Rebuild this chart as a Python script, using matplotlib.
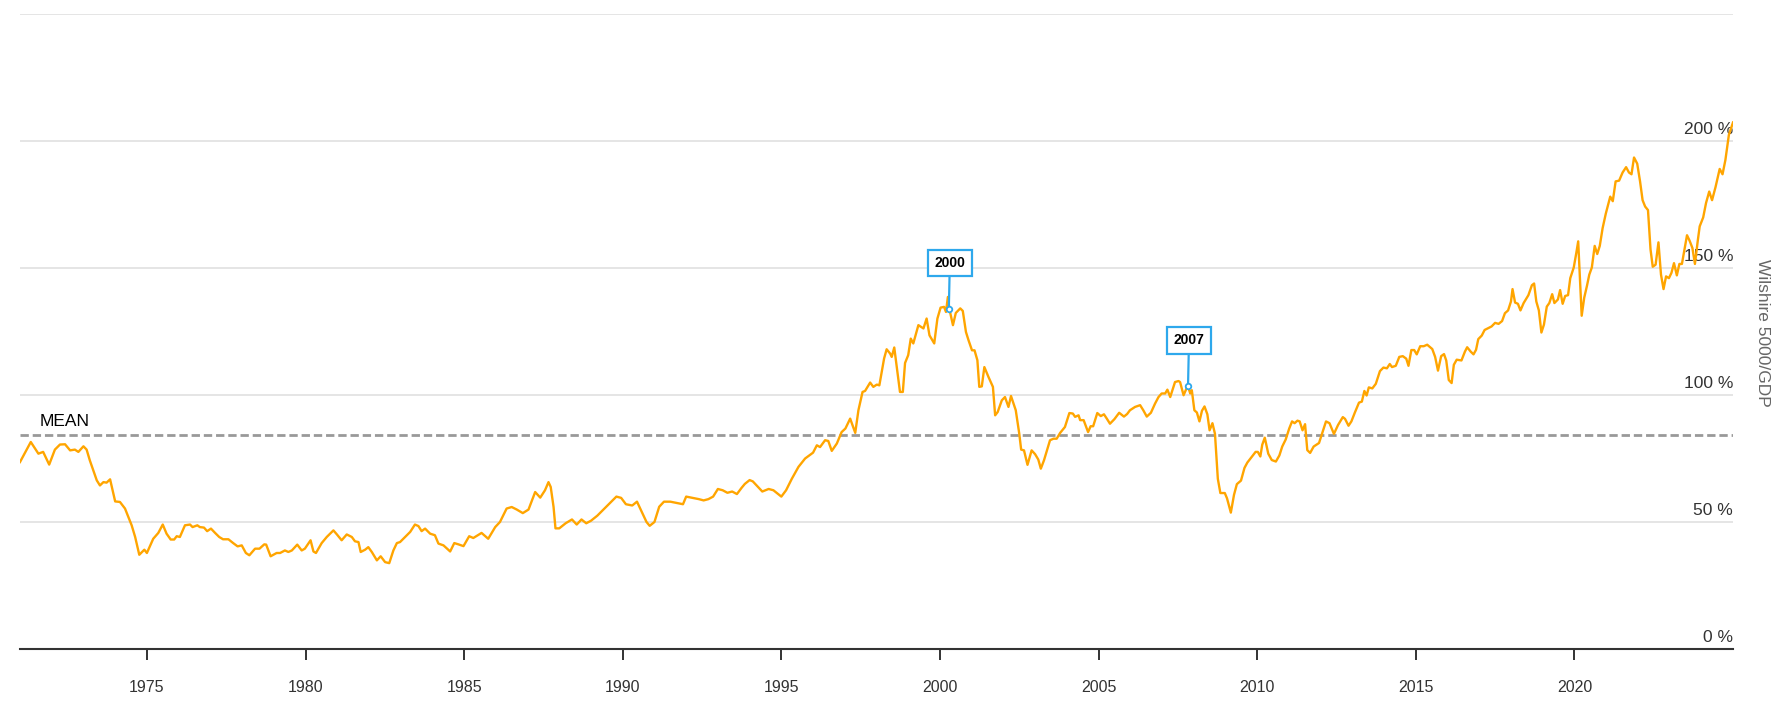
import matplotlib

matplotlib.use("Agg")
import matplotlib.pyplot as plt

plt.rcParams["font.family"] = ["Liberation Sans", "DejaVu Sans"]

ORANGE = "#ffa500"
BLUE = "#2ea8ec"
GRID = "#e3e3e3"
MEAN_GREY = "#999999"
TEXT = "#333333"

# Wilshire 5000 / GDP, decimal year -> percent
YEARS = [
    1971.00, 1971.34, 1971.58, 1971.73, 1971.92, 1972.10, 1972.26, 1972.42, 1972.58, 1972.73,
    1972.84, 1973.00, 1973.10, 1973.20, 1973.42, 1973.52, 1973.63, 1973.73, 1973.84, 1974.00,
    1974.15, 1974.31, 1974.52, 1974.63, 1974.76, 1974.92, 1975.00, 1975.20, 1975.36, 1975.50,
    1975.62, 1975.75, 1975.86, 1975.94, 1976.04, 1976.20, 1976.36, 1976.44, 1976.59, 1976.67,
    1976.80, 1976.90, 1977.02, 1977.15, 1977.28, 1977.40, 1977.57, 1977.72, 1977.86, 1977.99,
    1978.12, 1978.23, 1978.41, 1978.55, 1978.70, 1978.76, 1978.90, 1979.09, 1979.20, 1979.35,
    1979.46, 1979.57, 1979.74, 1979.88, 1979.98, 1980.16, 1980.25, 1980.33, 1980.51, 1980.67,
    1980.88, 1980.99, 1981.14, 1981.30, 1981.46, 1981.56, 1981.67, 1981.74, 1981.88, 1981.98,
    1982.09, 1982.25, 1982.37, 1982.51, 1982.64, 1982.77, 1982.88, 1982.98, 1983.14, 1983.30,
    1983.45, 1983.56, 1983.66, 1983.77, 1983.93, 1984.08, 1984.19, 1984.35, 1984.56, 1984.69,
    1984.82, 1984.98, 1985.16, 1985.29, 1985.55, 1985.76, 1985.98, 1986.13, 1986.34, 1986.50,
    1986.66, 1986.85, 1987.03, 1987.24, 1987.40, 1987.55, 1987.66, 1987.73, 1987.82, 1987.88,
    1988.00, 1988.20, 1988.40, 1988.55, 1988.70, 1988.85, 1989.00, 1989.20, 1989.40, 1989.60,
    1989.80, 1989.95, 1990.10, 1990.30, 1990.45, 1990.60, 1990.75, 1990.85, 1991.00, 1991.15,
    1991.30, 1991.50, 1991.70, 1991.90, 1992.00, 1992.20, 1992.40, 1992.55, 1992.70, 1992.85,
    1993.00, 1993.15, 1993.30, 1993.45, 1993.60, 1993.75, 1993.85, 1994.00, 1994.10, 1994.25,
    1994.40, 1994.60, 1994.75, 1994.90, 1995.00, 1995.15, 1995.33, 1995.54, 1995.75, 1996.00,
    1996.12, 1996.22, 1996.38, 1996.48, 1996.59, 1996.75, 1996.90, 1997.02, 1997.17, 1997.33,
    1997.43, 1997.56, 1997.64, 1997.80, 1997.90, 1998.01, 1998.09, 1998.24, 1998.32, 1998.43,
    1998.48, 1998.56, 1998.74, 1998.83, 1998.90, 1999.00, 1999.08, 1999.16, 1999.32, 1999.48,
    1999.58, 1999.67, 1999.82, 1999.92, 2000.02, 2000.13, 2000.19, 2000.25, 2000.30, 2000.41,
    2000.50, 2000.64, 2000.72, 2000.82, 2000.90, 2001.01, 2001.09, 2001.18, 2001.24, 2001.32,
    2001.40, 2001.53, 2001.67, 2001.74, 2001.82, 2001.95, 2002.05, 2002.16, 2002.24, 2002.39,
    2002.50, 2002.56, 2002.65, 2002.76, 2002.89, 2003.00, 2003.10, 2003.18, 2003.28, 2003.47,
    2003.58, 2003.68, 2003.79, 2003.94, 2004.08, 2004.19, 2004.26, 2004.37, 2004.42, 2004.53,
    2004.67, 2004.75, 2004.83, 2004.96, 2005.07, 2005.17, 2005.26, 2005.36, 2005.50, 2005.65,
    2005.80, 2005.90, 2005.99, 2006.15, 2006.31, 2006.41, 2006.52, 2006.65, 2006.78, 2006.89,
    2006.99, 2007.10, 2007.17, 2007.26, 2007.41, 2007.52, 2007.57, 2007.68, 2007.77, 2007.82,
    2007.89, 2007.94, 2008.02, 2008.10, 2008.18, 2008.26, 2008.34, 2008.43, 2008.50, 2008.59,
    2008.67, 2008.76, 2008.84, 2008.98, 2009.05, 2009.17, 2009.27, 2009.36, 2009.49, 2009.60,
    2009.69, 2009.82, 2009.95, 2010.02, 2010.10, 2010.16, 2010.24, 2010.35, 2010.46, 2010.59,
    2010.70, 2010.79, 2010.90, 2011.01, 2011.10, 2011.18, 2011.27, 2011.34, 2011.43, 2011.51,
    2011.58, 2011.67, 2011.78, 2011.95, 2012.06, 2012.17, 2012.28, 2012.42, 2012.55, 2012.70,
    2012.77, 2012.88, 2012.97, 2013.08, 2013.21, 2013.30, 2013.38, 2013.45, 2013.52, 2013.63,
    2013.74, 2013.87, 2013.98, 2014.09, 2014.18, 2014.25, 2014.37, 2014.48, 2014.59, 2014.70,
    2014.77, 2014.86, 2014.95, 2015.03, 2015.14, 2015.25, 2015.36, 2015.52, 2015.61, 2015.70,
    2015.80, 2015.89, 2015.96, 2016.04, 2016.13, 2016.20, 2016.29, 2016.44, 2016.55, 2016.62,
    2016.73, 2016.82, 2016.90, 2016.97, 2017.08, 2017.17, 2017.28, 2017.39, 2017.50, 2017.61,
    2017.72, 2017.81, 2017.91, 2018.00, 2018.05, 2018.13, 2018.22, 2018.30, 2018.40, 2018.55,
    2018.66, 2018.73, 2018.80, 2018.88, 2018.96, 2019.04, 2019.13, 2019.21, 2019.30, 2019.37,
    2019.48, 2019.55, 2019.63, 2019.71, 2019.80, 2019.87, 2019.98, 2020.06, 2020.12, 2020.23,
    2020.31, 2020.40, 2020.47, 2020.55, 2020.64, 2020.72, 2020.80, 2020.89, 2020.99, 2021.13,
    2021.21, 2021.30, 2021.41, 2021.52, 2021.63, 2021.72, 2021.80, 2021.88, 2021.98, 2022.07,
    2022.15, 2022.23, 2022.32, 2022.40, 2022.47, 2022.56, 2022.65, 2022.73, 2022.81, 2022.89,
    2022.98, 2023.06, 2023.14, 2023.23, 2023.31, 2023.39, 2023.47, 2023.55, 2023.63, 2023.72,
    2023.80, 2023.89, 2023.95, 2024.06, 2024.15, 2024.25, 2024.34, 2024.45, 2024.58, 2024.67,
    2024.76, 2024.87, 2025.00,
]
RATIO = [
    73.6, 81.5, 76.9, 77.6, 72.6, 78.5, 80.5, 80.6, 78.2, 78.5,
    77.6, 79.8, 78.5, 74.3, 66.4, 64.4, 65.7, 65.5, 66.8, 58.1,
    57.9, 55.3, 48.7, 44.1, 37.1, 39.1, 37.8, 43.4, 45.7, 49.0,
    45.4, 43.1, 43.1, 44.4, 44.1, 48.7, 49.0, 48.0, 48.7, 48.0,
    47.8, 46.4, 47.4, 45.7, 44.1, 43.2, 43.2, 41.7, 40.4, 40.8,
    37.8, 36.9, 39.5, 39.5, 41.2, 41.1, 36.5, 37.8, 37.8, 38.8,
    38.2, 38.8, 41.1, 38.8, 39.5, 42.8, 38.4, 37.8, 41.7, 44.1,
    46.7, 45.1, 42.8, 45.1, 44.1, 42.4, 42.1, 38.2, 39.1, 40.1,
    38.2, 34.9, 36.5, 34.2, 33.8, 38.8, 41.7, 42.1, 44.1, 46.1,
    49.0, 48.4, 46.4, 47.4, 45.4, 44.8, 41.5, 40.8, 38.4, 41.7,
    41.2, 40.5, 44.4, 43.7, 45.7, 43.4, 48.0, 50.0, 55.3, 55.9,
    54.9, 53.5, 54.9, 61.8, 59.6, 62.5, 65.7, 63.8, 55.9, 47.5,
    47.5, 49.5, 51.0, 49.0, 51.0, 49.5, 50.5, 52.5, 55.0, 57.5,
    60.0, 59.5, 57.0, 56.5, 58.0, 54.0, 50.0, 48.5, 50.0, 56.0,
    58.0, 58.0, 57.5, 57.0, 60.0, 59.5, 59.0, 58.5, 59.0, 60.0,
    63.0, 62.5, 61.5, 62.0, 61.0, 63.5, 65.0, 66.5, 66.0, 64.0,
    62.0, 63.0, 62.5, 61.0, 60.0, 62.5, 67.0, 71.7, 75.0, 77.3,
    80.2, 79.5, 82.2, 81.9, 78.0, 80.9, 85.4, 86.8, 90.7, 85.1,
    94.0, 101.2, 101.6, 104.9, 103.2, 104.1, 103.8, 114.4, 118.0, 116.3,
    115.0, 118.7, 101.2, 101.2, 112.6, 115.7, 122.2, 120.3, 127.5, 126.2,
    130.1, 123.5, 120.3, 130.1, 134.4, 134.7, 132.7, 138.6, 133.7, 127.5,
    132.3, 134.1, 133.1, 124.8, 121.6, 117.6, 117.6, 113.7, 103.2, 103.4,
    111.0, 107.1, 103.2, 92.0, 93.3, 97.9, 99.2, 95.3, 99.6, 94.0,
    84.8, 78.5, 78.2, 72.5, 78.2, 76.7, 74.6, 71.0, 74.3, 82.2,
    82.8, 82.8, 85.1, 87.4, 92.9, 92.7, 91.4, 92.0, 90.1, 90.1,
    85.4, 87.7, 87.7, 92.9, 91.7, 92.4, 90.7, 88.7, 90.5, 93.0,
    91.5, 92.5, 94.0, 95.3, 96.0, 94.0, 91.5, 93.0, 96.6, 99.2,
    100.6, 100.6, 102.1, 99.2, 105.1, 105.5, 105.1, 99.9, 102.5, 103.4,
    100.6, 101.9, 94.0, 93.1, 89.6, 93.8, 95.5, 92.4, 86.1, 88.9,
    84.7, 67.0, 61.4, 61.4, 59.3, 53.7, 60.7, 64.9, 66.3, 71.3,
    73.4, 75.5, 77.6, 77.6, 75.8, 80.4, 83.2, 76.9, 74.4, 73.8,
    76.2, 79.7, 82.5, 86.8, 89.6, 88.9, 89.9, 89.6, 86.1, 88.5,
    78.3, 77.2, 79.7, 81.1, 85.4, 89.6, 88.9, 84.7, 88.2, 91.3,
    90.6, 87.9, 89.6, 93.1, 97.0, 97.4, 101.6, 99.8, 103.0, 102.6,
    104.4, 109.4, 110.8, 110.5, 112.2, 111.0, 111.5, 115.0, 115.3, 114.3,
    111.5, 117.7, 117.7, 116.0, 119.2, 119.2, 119.8, 118.1, 115.0, 109.6,
    115.3, 116.1, 113.6, 105.9, 104.7, 111.9, 113.9, 113.6, 117.1, 118.8,
    117.1, 116.0, 117.8, 122.0, 123.4, 125.6, 126.3, 127.0, 128.4, 128.0,
    129.1, 132.2, 133.3, 136.8, 141.7, 136.4, 135.9, 133.3, 136.2, 139.3,
    143.2, 143.9, 136.8, 133.3, 124.6, 127.7, 134.8, 136.2, 139.7, 136.2,
    137.6, 141.3, 135.9, 139.0, 139.3, 146.0, 150.2, 155.9, 160.5, 131.2,
    138.3, 143.2, 147.4, 150.2, 158.7, 155.5, 158.7, 165.7, 171.4, 178.1,
    176.3, 184.1, 184.4, 187.6, 189.7, 187.6, 186.9, 193.5, 191.1, 184.1,
    176.7, 174.2, 172.8, 157.3, 150.5, 151.3, 160.1, 147.4, 141.7, 146.7,
    146.0, 148.1, 151.9, 147.1, 151.6, 151.6, 157.3, 162.9, 160.8, 157.9,
    151.6, 160.8, 166.4, 169.9, 175.6, 180.1, 176.7, 181.9, 189.0, 186.9,
    192.5, 202.4, 207.3,
]

MEAN_VALUE = 84.4
MEAN_LABEL = "MEAN"

ANNOT_LABELS = ["2000", "2007"]
ANNOT_X = [2000.28, 2007.82]
ANNOT_Y = [133.8, 103.4]

X_TICKS = [1975, 1980, 1985, 1990, 1995, 2000, 2005, 2010, 2015, 2020]
Y_TICKS = [0, 50, 100, 150, 200]
Y_TOP = 250
Y_TITLE = "Wilshire 5000/GDP"


def main() -> None:
    fig = plt.figure(figsize=(17.8, 7.14), dpi=100, facecolor="white")
    ax = fig.add_axes([20 / 1780, 1 - 649 / 714, 1713 / 1780, 635 / 714])

    ax.set_xlim(YEARS[0], YEARS[-1])
    ax.set_ylim(0, Y_TOP)

    # horizontal grid, including the unlabeled top line
    for level in Y_TICKS[1:] + [Y_TOP]:
        ax.axhline(level, color=GRID, lw=1.3, zorder=1)

    for level in Y_TICKS:
        ax.annotate(
            f"{level} %",
            xy=(1, level),
            xycoords=("axes fraction", "data"),
            xytext=(0, 4),
            textcoords="offset pixels",
            ha="right",
            va="bottom",
            fontsize=12.5,
            color=TEXT,
        )

    ax.axhline(MEAN_VALUE, color=MEAN_GREY, lw=2.0, dashes=(3.0, 1.4), zorder=2)
    ax.annotate(
        MEAN_LABEL,
        xy=(0, MEAN_VALUE),
        xycoords=("axes fraction", "data"),
        xytext=(20, 6),
        textcoords="offset pixels",
        ha="left",
        va="bottom",
        fontsize=12.5,
        color="black",
    )

    ax.plot(YEARS, RATIO, color=ORANGE, lw=1.7, zorder=3, solid_joinstyle="round")

    for label, x, y in zip(ANNOT_LABELS, ANNOT_X, ANNOT_Y):
        ax.annotate(
            label,
            xy=(x, y),
            xytext=(1, 46),
            textcoords="offset pixels",
            ha="center",
            va="center",
            fontsize=10,
            fontweight="bold",
            color="black",
            bbox=dict(boxstyle="square,pad=0.45", fc="white", ec=BLUE, lw=1.6),
            arrowprops=dict(arrowstyle="-", color=BLUE, lw=1.6, shrinkA=0, shrinkB=2),
            zorder=5,
        )
        ax.plot(x, y, marker="o", ms=4, mfc="white", mec=BLUE, mew=1.3, zorder=6)

    ax.set_xticks(X_TICKS)
    ax.set_xticklabels([str(t) for t in X_TICKS])
    ax.set_yticks([])
    ax.tick_params(axis="x", direction="out", length=8, width=1.4, color=TEXT,
                   labelsize=11.5, labelcolor=TEXT, pad=14)

    for side in ["left", "right", "top"]:
        ax.spines[side].set_visible(False)
    ax.spines["bottom"].set_color(TEXT)
    ax.spines["bottom"].set_linewidth(1.5)

    fig.text(1762 / 1780, 1 - 333 / 714, Y_TITLE, rotation=270, ha="center", va="center",
             fontsize=12.5, color="#666666")

    fig.savefig("out.png", dpi=100, facecolor="white")
    plt.close(fig)


if __name__ == "__main__":
    main()
